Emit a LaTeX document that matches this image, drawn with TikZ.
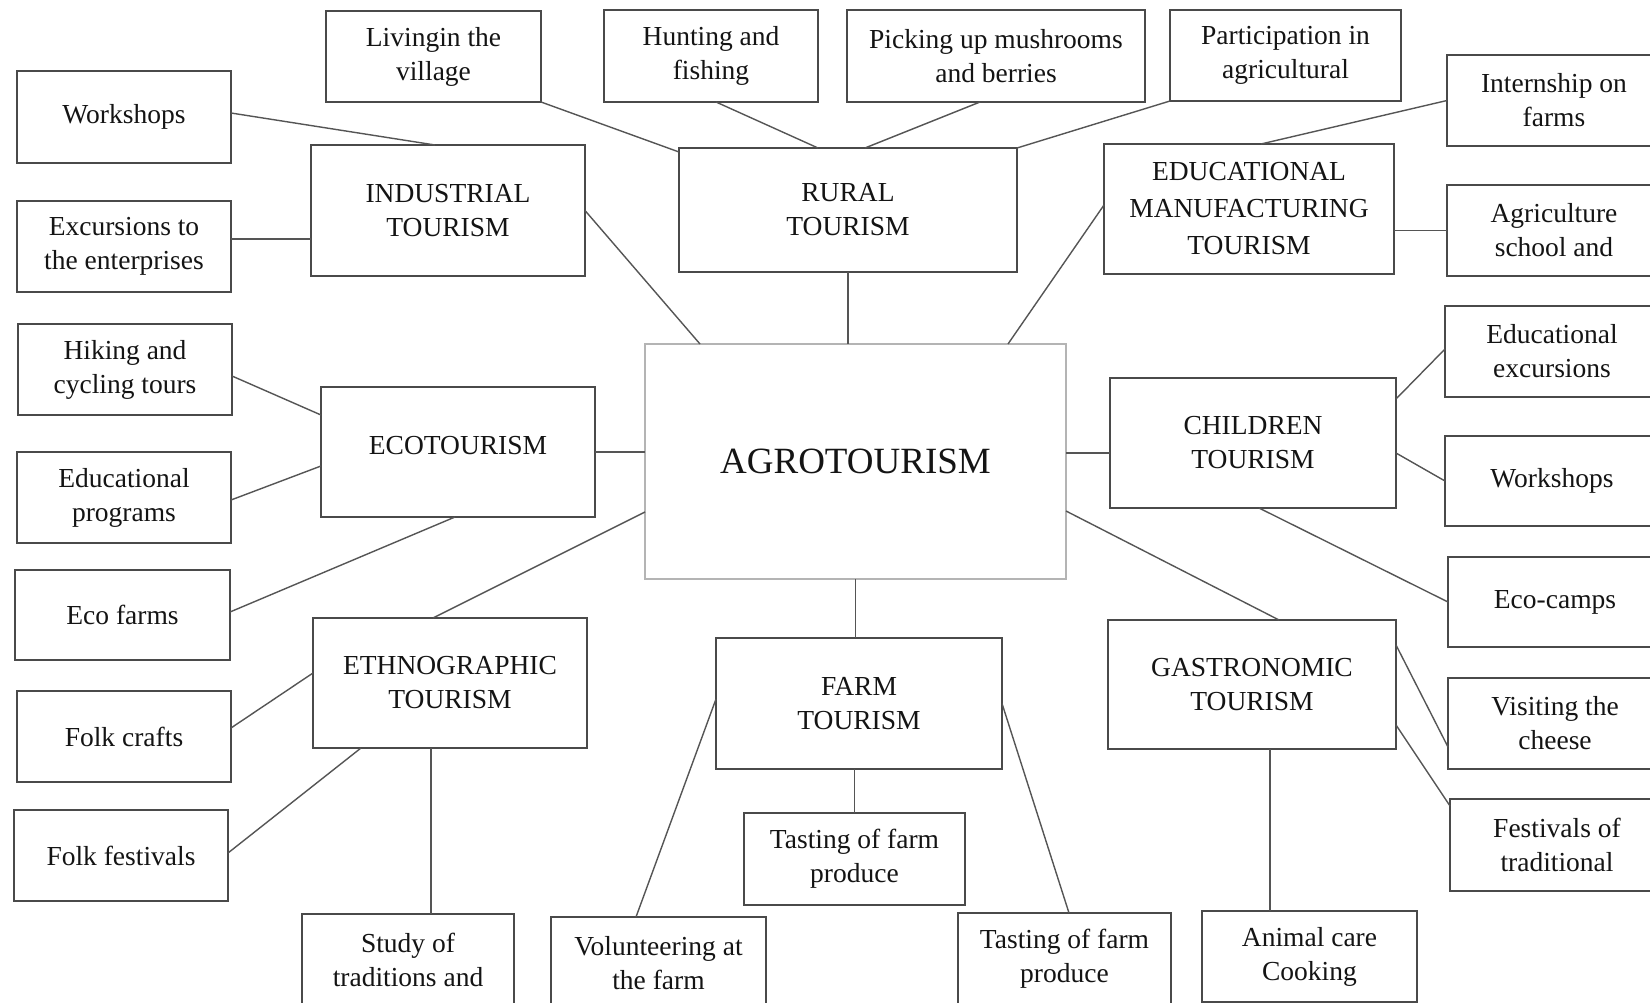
\documentclass[tikz,border=0pt]{standalone}
\usepackage{fontspec}
\setmainfont{Liberation Serif}
\definecolor{bordc}{HTML}{4A4A4A}
\definecolor{linec}{HTML}{555555}
\definecolor{agroc}{HTML}{B4B4B4}
\definecolor{txt}{HTML}{141414}
\begin{document}
\begin{tikzpicture}[x=1pt,y=-1pt,
  box/.style 2 args={draw=bordc, line width=1.6pt, minimum width=#1pt, minimum height=#2pt,
    inner sep=0pt, outer sep=0pt, align=center, text=txt,
    font=\fontsize{27.5}{34}\selectfont},
  link/.style={draw=linec, line width=1.4pt}]
\useasboundingbox (0,0) rectangle (1650,1003);
\fill[white] (0,0) rectangle (1650,1003);
\clip (0,0) rectangle (1650,1003);

% centre
\node[box={421}{235}, draw=agroc, font=\fontsize{37}{44}\selectfont] (agro) at (855.5,461.5) {AGROTOURISM};

% tourism boxes
\node[box={274}{131}] (ind) at (448,210.5) {INDUSTRIAL\\TOURISM};
\node[box={338}{124}] (rur) at (848,210) {RURAL\\TOURISM};
\node[box={290}{130}, font=\fontsize{27.5}{37}\selectfont] (edu) at (1249,209) {EDUCATIONAL\\MANUFACTURING\\TOURISM};
\node[box={274}{130}] (eco) at (458,452) {\raisebox{6pt}[\height][\depth]{ECOTOURISM}};
\node[box={286}{130}] (chi) at (1253,443) {CHILDREN\\TOURISM};
\node[box={274}{130}] (eth) at (450,683) {ETHNOGRAPHIC\\TOURISM};
\node[box={286}{131}] (frm) at (859,703.5) {FARM\\TOURISM};
\node[box={288}{129}] (gas) at (1252,684.5) {GASTRONOMIC\\TOURISM};

% left column
\node[box={214}{92}] (ws1) at (124,117) {Workshops};
\node[box={214}{91}] (exc) at (124,246.5) {Excursions to\\the enterprises};
\node[box={214}{91}] (hik) at (125,369.5) {Hiking and\\cycling tours};
\node[box={214}{91}] (edp) at (124,497.5) {Educational\\programs};
\node[box={215}{90}] (ecf) at (122.5,615) {Eco farms};
\node[box={214}{91}] (fcr) at (124,736.5) {Folk crafts};
\node[box={214}{91}] (ffe) at (121,855.5) {Folk festivals};

% top row
\node[box={215}{91}] (liv) at (433.5,56.5) {Livingin the\\village};
\node[box={214}{92}] (hun) at (711,56) {Hunting and\\fishing};
\node[box={298}{92}] (pic) at (996,56) {Picking up mushrooms\\and berries};
\node[box={231}{91}] (par) at (1285.5,55.5) {Participation in\\agricultural};

% right column
\node[box={214}{91}] (int) at (1554,100.5) {Internship on\\farms};
\node[box={214}{91}] (agr) at (1554,230.5) {Agriculture\\school and};
\node[box={214}{91}] (eex) at (1552,351.5) {Educational\\excursions};
\node[box={214}{90}] (ws2) at (1552,481) {Workshops};
\node[box={214}{90}] (eca) at (1555,602) {Eco-camps};
\node[box={214}{91}] (vis) at (1555,723.5) {Visiting the\\cheese};
\node[box={214}{92}] (fes) at (1557,845) {Festivals of\\traditional};

% bottom row
\node[box={212}{92}] (stu) at (408,960) {Study of\\traditions and};
\node[box={215}{92}] (vol) at (658.5,963) {Volunteering at\\the farm};
\node[box={221}{92}] (ts1) at (854.5,859) {Tasting of farm\\produce};
\node[box={213}{92}] (ts2) at (1064.5,959) {Tasting of farm\\produce};
\node[box={215}{91}] (ani) at (1309.5,956.5) {Animal care\\Cooking};

% helper coordinates
\coordinate (ethb) at ([xshift=-19pt]eth.south);
\coordinate (chiw) at ([yshift=-10pt]chi.west);
\coordinate (gasb) at ([xshift=18pt]gas.south);
\coordinate (excr) at ([yshift=7.5pt]exc.east);

% connectors: centre
\draw[link] (ind.east) -- ([xshift=-155.5pt]agro.north);
\draw[link] (rur.south) -- (rur.south |- agro.north);
\draw[link] ([yshift=4pt]edu.west) -- ([xshift=152.5pt]agro.north);
\draw[link] (eco.east) -- (eco.east -| agro.west);
\draw[link] ([yshift=-50.5pt]agro.west) -- ([xshift=-17pt]eth.north);
\draw[link] (chiw -| agro.east) -- (chiw);
\draw[link] ([yshift=-49.5pt]agro.east) -- ([xshift=27pt]gas.north);
\draw[link] (agro.south) -- (agro.south |- frm.north);

% industrial
\draw[link] ([yshift=4pt]ws1.east) -- ([xshift=-13pt]ind.north);
\draw[link] (excr) -- (excr -| ind.west);
% eco
\draw[link] ([yshift=-6.5pt]hik.east) -- ([yshift=37pt]eco.west);
\draw[link] ([yshift=-2.5pt]edp.east) -- ([yshift=-14pt]eco.west);
\draw[link] ([yshift=3pt]ecf.east) -- ([xshift=-3pt]eco.south);
% ethnographic
\draw[link] ([yshift=8.5pt]fcr.east) -- ([yshift=10pt]eth.west);
\draw[link] ([yshift=2.5pt]ffe.east) -- ([xshift=-89pt]eth.south);
\draw[link] (ethb) -- (ethb |- stu.north);
% rural
\draw[link] (liv.south east) -- ([yshift=-4pt]rur.north west);
\draw[link] ([xshift=5pt]hun.south) -- ([xshift=-30pt]rur.north);
\draw[link] ([xshift=-16pt]pic.south) -- ([xshift=17pt]rur.north);
\draw[link] (par.south west) -- (rur.north east);
% educational manufacturing
\draw[link] (int.west) -- ([xshift=12pt]edu.north);
\draw[link] (agr.west -| edu.east) -- (agr.west);
% children
\draw[link] ([yshift=44pt]chi.east) -- ([yshift=2.5pt]eex.west);
\draw[link] ([yshift=-10pt]chi.east) -- (ws2.west);
\draw[link] ([xshift=6pt]chi.south) -- (eca.west);
% gastronomic
\draw[link] ([yshift=39.5pt]gas.east) -- ([yshift=-23.5pt]vis.west);
\draw[link] ([yshift=-40.5pt]gas.east) -- ([yshift=-7pt]fes.north west);
\draw[link] (gasb) -- (gasb |- ani.north);
% farm
\draw[link] ([yshift=4.5pt]frm.west) -- ([xshift=-22.5pt]vol.north);
\draw[link] (ts1.north |- frm.south) -- (ts1.north);
\draw[link] (frm.east) -- ([xshift=4.5pt]ts2.north);
\end{tikzpicture}
\end{document}
